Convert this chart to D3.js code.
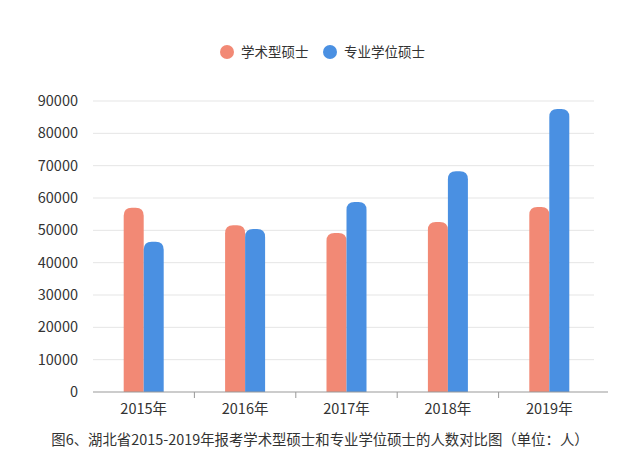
<!DOCTYPE html>
<html>
<head>
<meta charset="utf-8">
<script src="https://cdn.jsdelivr.net/npm/d3@7"></script>
<style>
  body { margin: 0; background: #fff; }
  svg text { font-family: "Noto Sans CJK SC", "Noto Sans", sans-serif; fill: #333; }
</style>
</head>
<body>
<div id="chart"></div>
<script>
// data
var years = ["2015年", "2016年", "2017年", "2018年", "2019年"];
var seriesNames = ["学术型硕士", "专业学位硕士"];
var academic = [57000, 51600, 49200, 52600, 57200];
var professional = [46500, 50400, 58800, 68300, 87500];
var yTicks = [0, 10000, 20000, 30000, 40000, 50000, 60000, 70000, 80000, 90000];
var caption = "图6、湖北省2015-2019年报考学术型硕士和专业学位硕士的人数对比图（单位：人）";

var colors = ["#f28975", "#4a90e2"];

var margin = {top: 101, right: 40, bottom: 78, left: 93},
    width = 640 - margin.left - margin.right,
    height = 470 - margin.top - margin.bottom;

var svg = d3.select("#chart").append("svg")
    .attr("width", 640)
    .attr("height", 470);

var g = svg.append("g")
    .attr("transform", "translate(" + margin.left + "," + margin.top + ")");

var x = d3.scaleBand().domain(years).range([0, width]);
var x1 = d3.scaleBand().domain([0, 1]).range([x.bandwidth() / 2 - 20, x.bandwidth() / 2 + 20]);
var y = d3.scaleLinear().domain([0, 90000]).range([height, 0]);

// gridlines
g.selectAll(".grid")
    .data(yTicks.slice(1))
    .enter().append("line")
    .attr("x1", 0)
    .attr("x2", width - 6)
    .attr("y1", function(d) { return y(d); })
    .attr("y2", function(d) { return y(d); })
    .attr("stroke", "#e5e5e5")
    .attr("stroke-width", 1);

// y labels
g.selectAll(".ylab")
    .data(yTicks)
    .enter().append("text")
    .attr("x", -15)
    .attr("y", function(d) { return y(d); })
    .attr("dy", "0.35em")
    .attr("text-anchor", "end")
    .style("font-size", "14.5px")
    .text(function(d) { return d; });

// bars with rounded tops
function barPath(x0, w, top, bottom, r) {
    r = Math.min(r, w / 2, bottom - top);
    return "M" + x0 + "," + bottom +
        "V" + (top + r) +
        "Q" + x0 + "," + top + " " + (x0 + r) + "," + top +
        "H" + (x0 + w - r) +
        "Q" + (x0 + w) + "," + top + " " + (x0 + w) + "," + (top + r) +
        "V" + bottom + "Z";
}

var series = [academic, professional];
series.forEach(function(vals, si) {
    g.selectAll(".bar" + si)
        .data(vals)
        .enter().append("path")
        .attr("fill", colors[si])
        .attr("d", function(d, i) {
            return barPath(x(years[i]) + x1(si), x1.bandwidth(), y(d), y(0), 8);
        });
});

// x axis
var xAxis = g.append("g")
    .attr("transform", "translate(0," + height + ")");
xAxis.append("line")
    .attr("x1", 0).attr("x2", width + 8)
    .attr("stroke", "#999");
xAxis.selectAll(".tick")
    .data(years.slice(1))
    .enter().append("line")
    .attr("x1", function(d) { return x(d); })
    .attr("x2", function(d) { return x(d); })
    .attr("y1", 0).attr("y2", 6)
    .attr("stroke", "#999");
xAxis.selectAll(".xlab")
    .data(years)
    .enter().append("text")
    .attr("x", function(d) { return x(d) + x.bandwidth() / 2; })
    .attr("y", 17)
    .attr("dy", "0.35em")
    .attr("text-anchor", "middle")
    .style("font-size", "14.5px")
    .text(function(d) { return d; });

// legend
var legendX = [227, 330];
var legend = svg.selectAll(".legend")
    .data(seriesNames)
    .enter().append("g")
    .attr("transform", function(d, i) { return "translate(" + legendX[i] + ",52)"; });
legend.append("circle")
    .attr("r", 7)
    .attr("fill", function(d, i) { return colors[i]; });
legend.append("text")
    .attr("x", 14)
    .attr("dy", "0.35em")
    .style("font-size", "13.5px")
    .text(function(d) { return d; });

// caption
svg.append("text")
    .attr("x", 320)
    .attr("y", 440)
    .attr("dy", "0.35em")
    .attr("text-anchor", "middle")
    .style("font-size", "14.4px")
    .text(caption);
</script>
</body>
</html>
